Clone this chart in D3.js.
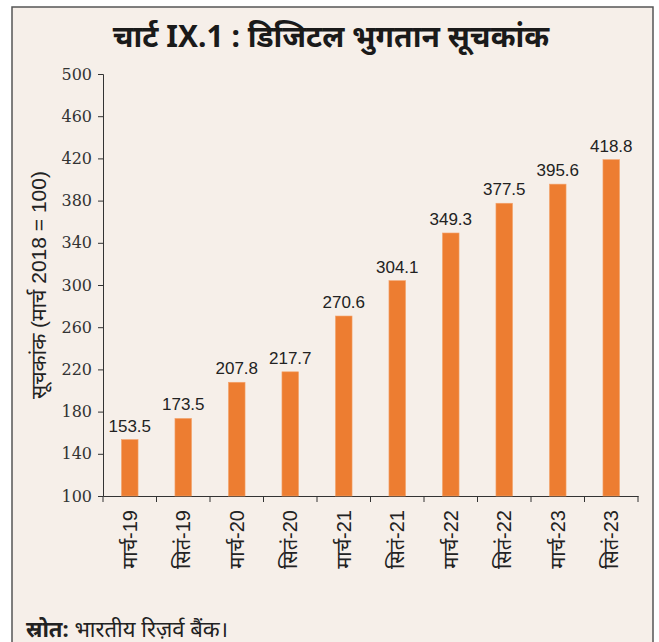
<!DOCTYPE html>
<html>
<head>
<meta charset="utf-8" />
<title>Digital Payments Index</title>
<script src="https://cdn.jsdelivr.net/npm/d3@7"></script>
<style>
  body { margin: 0; background: #fff; }
  svg { display: block; }
</style>
</head>
<body>
<script>
// periods and RBI-DPI values
const categories = ["मार्च-19", "सितं-19", "मार्च-20", "सितं-20", "मार्च-21", "सितं-21", "मार्च-22", "सितं-22", "मार्च-23", "सितं-23"];
const values = [153.5, 173.5, 207.8, 217.7, 270.6, 304.1, 349.3, 377.5, 395.6, 418.8];
const yTicks = [100, 140, 180, 220, 260, 300, 340, 380, 420, 460, 500];

const width = 659, height = 642;
const margin = { top: 74, left: 103, right: 21, bottom: 146 };

const svg = d3.select("body").append("svg")
    .attr("width", width)
    .attr("height", height);

// panel background + frame
svg.append("rect")
    .attr("x", 12).attr("y", 7)
    .attr("width", 641).attr("height", 650)
    .attr("fill", "#f6efe9")
    .attr("stroke", "#555")
    .attr("stroke-width", 1.5);

svg.append("text")
    .attr("x", 331).attr("y", 47)
    .attr("text-anchor", "middle")
    .style("font-family", "'Noto Sans', 'Liberation Sans Narrow', sans-serif")
    .style("font-size", "30px")
    .style("font-weight", "bold")
    .attr("fill", "#1a1a1a")
    .text("चार्ट IX.1 : डिजिटल भुगतान सूचकांक");

const x = d3.scaleBand()
    .domain(categories)
    .range([margin.left, width - margin.right])
    .paddingInner(0.69)
    .paddingOuter(0.345);

const y = d3.scaleLinear()
    .domain([100, 500])
    .range([height - margin.bottom, margin.top]);

const yAxis = svg.append("g")
    .attr("transform", `translate(${margin.left},0)`)
    .call(d3.axisLeft(y).tickValues(yTicks).tickSize(5).tickPadding(6));
yAxis.selectAll("text")
    .style("font-family", "'DejaVu Serif', 'Liberation Serif', serif")
    .style("font-size", "16px")
    .attr("fill", "#333");

const xAxis = svg.append("g")
    .attr("transform", `translate(0,${height - margin.bottom})`)
    .call(d3.axisBottom(x).tickSize(0).tickFormat(""));

// ticks between the bands
const step = x.step();
xAxis.selectAll("line.sep")
    .data(d3.range(categories.length + 1))
    .enter().append("line")
    .attr("class", "sep")
    .attr("x1", i => margin.left + i * step)
    .attr("x2", i => margin.left + i * step)
    .attr("y1", 0).attr("y2", 6)
    .attr("stroke", "#333");

svg.selectAll(".domain, .tick line").attr("stroke", "#333");

svg.append("g").selectAll("text")
    .data(categories)
    .enter().append("text")
    .attr("transform", d => `translate(${x(d) + x.bandwidth() / 2 + 7},${height - margin.bottom + 14}) rotate(-90)`)
    .attr("text-anchor", "end")
    .style("font-family", "'Liberation Sans', 'Noto Sans', sans-serif")
    .style("font-size", "20px")
    .attr("fill", "#222")
    .text(d => d);

svg.append("g").selectAll("rect")
    .data(values)
    .enter().append("rect")
    .attr("x", (d, i) => x(categories[i]))
    .attr("y", d => y(d))
    .attr("width", x.bandwidth())
    .attr("height", d => y(100) - y(d))
    .attr("fill", "#ed7d31")
    .attr("stroke", "#f4a36c")
    .attr("stroke-width", 0.6);

svg.append("g").selectAll("text")
    .data(values)
    .enter().append("text")
    .attr("x", (d, i) => x(categories[i]) + x.bandwidth() / 2)
    .attr("y", d => y(d) - 8)
    .attr("text-anchor", "middle")
    .style("font-family", "'Liberation Sans', Arial, sans-serif")
    .style("font-size", "17px")
    .attr("fill", "#222")
    .text(d => d.toFixed(1));

svg.append("text")
    .attr("transform", `translate(46,${(y(100) + y(500)) / 2}) rotate(-90)`)
    .attr("text-anchor", "middle")
    .style("font-family", "'Liberation Sans', 'Noto Sans', sans-serif")
    .style("font-size", "21px")
    .attr("fill", "#222")
    .text("सूचकांक (मार्च 2018 = 100)");

const src = svg.append("text")
    .attr("x", 26).attr("y", 637)
    .style("font-family", "'Noto Sans', 'Liberation Sans', sans-serif")
    .style("font-size", "22px")
    .attr("fill", "#222");
src.append("tspan").style("font-weight", "bold").text("स्रोत:");
src.append("tspan").text(" भारतीय रिज़र्व बैंक।");
</script>
</body>
</html>
